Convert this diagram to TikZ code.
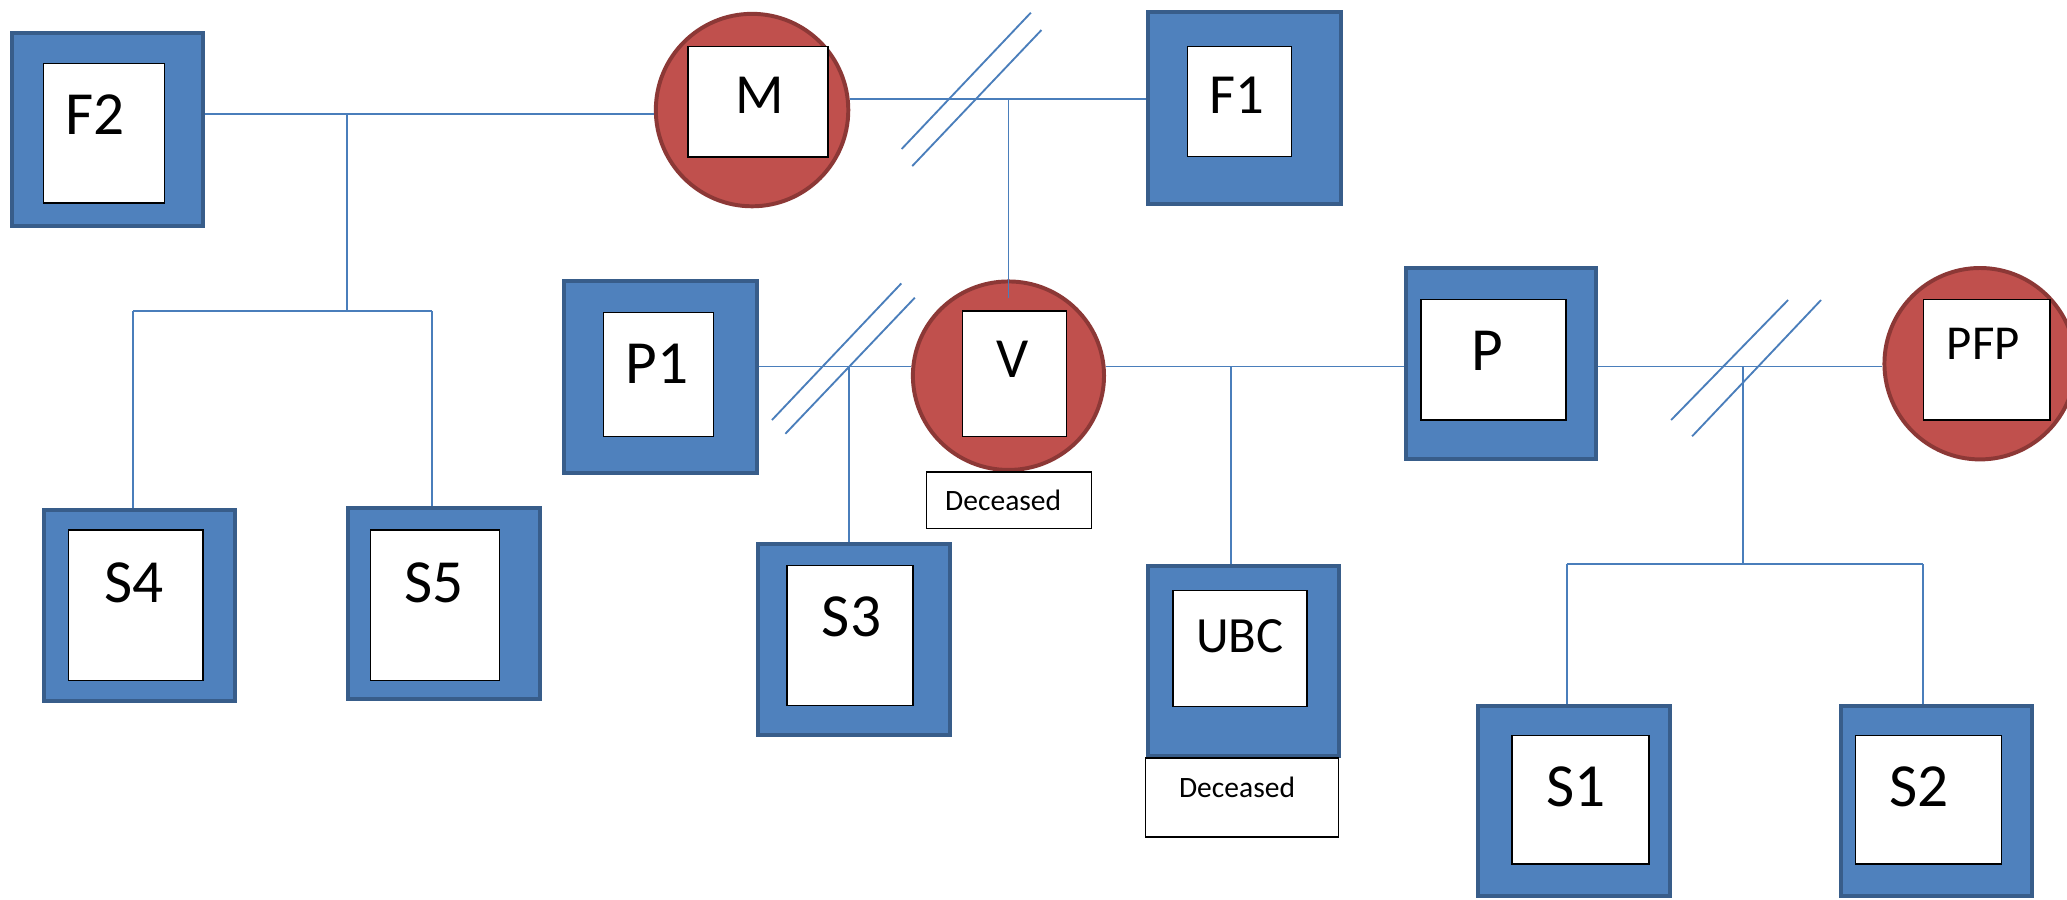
\documentclass[tikz,border=0pt]{standalone}
\usepackage{fontspec}
\setmainfont{Carlito}
\usetikzlibrary{shapes.geometric,calc}
\definecolor{mfill}{HTML}{4F81BD}
\definecolor{mborder}{HTML}{385D8A}
\definecolor{ffill}{HTML}{C0504D}
\definecolor{fborder}{HTML}{8C3836}
\definecolor{lcol}{HTML}{4A7EBB}
\tikzset{
  malebox/.style={rectangle, draw=mborder, fill=mfill, line width=3pt, inner sep=0pt},
  femcirc/.style={ellipse, draw=fborder, fill=ffill, line width=3pt, inner sep=0pt},
  txtbox/.style={rectangle, draw=black, fill=white, line width=1pt, inner sep=0pt},
  lbl/.style={inner sep=0pt, anchor=base, text=black},
  big/.style={font=\fontsize{46.5}{50}\selectfont},
  mid/.style={font=\fontsize{43}{48}\selectfont},
  small/.style={font=\fontsize{38.5}{42}\selectfont},
  tiny/.style={font=\fontsize{22.4}{26}\selectfont},
  link/.style={draw=lcol, line width=1.4pt},
}
\begin{document}
\begin{tikzpicture}[x=1pt,y=-1pt]
\fill[white] (0,0) rectangle (1568,682);
\useasboundingbox (0,0) rectangle (1568,682);

% ---------- people ----------
\node[malebox, minimum width=145.4pt, minimum height=146.4pt] (F2) at (81.6,98) {};
\node[txtbox, minimum width=91.6pt, minimum height=106pt] (F2i) at (78.8,101) {};
\node[lbl, big] (F2t) at (72,102) {F2};

\node[femcirc, minimum width=146pt, minimum height=146pt] (M) at (570.5,83.5) {};
\node[txtbox, minimum width=106pt, minimum height=83.6pt] (Mi) at (575,77.2) {};
\node[lbl, mid] (Mt) at (576.5,86) {M};

\node[malebox, minimum width=147pt, minimum height=145.7pt] (F1) at (944,82) {};
\node[txtbox, minimum width=78.8pt, minimum height=83.5pt] (F1i) at (940.2,77.2) {};
\node[lbl, mid] (F1t) at (938,86) {F1};

\node[malebox, minimum width=146pt, minimum height=145pt] (P1) at (501,286) {};
\node[txtbox, minimum width=83pt, minimum height=94pt] (P1i) at (499.5,284) {};
\node[lbl, big] (P1t) at (498.5,291) {P1};

\node[femcirc, minimum width=145pt, minimum height=143pt] (V) at (765,285) {};
\node[txtbox, minimum width=79pt, minimum height=95pt] (Vi) at (769.5,283.5) {};
\node[lbl, mid] (Vt) at (768,286) {V};
\node[txtbox, minimum width=125.4pt, minimum height=43pt] (Vd) at (765.3,379.5) {};
\node[lbl, tiny] (Vdt) at (761,387) {Deceased};

\node[malebox, minimum width=145.5pt, minimum height=145pt] (S3) at (647.75,485) {};
\node[txtbox, minimum width=95.6pt, minimum height=106pt] (S3i) at (644.8,482) {};
\node[lbl, big] (S3t) at (646,483) {S3};

\node[malebox, minimum width=145pt, minimum height=144.4pt] (S4) at (106,459.3) {};
\node[txtbox, minimum width=102pt, minimum height=114pt] (S4i) at (103,459) {};
\node[lbl, big] (S4t) at (101.6,457) {S4};

\node[malebox, minimum width=145.3pt, minimum height=145pt] (S5) at (336.85,457.55) {};
\node[txtbox, minimum width=98pt, minimum height=114pt] (S5i) at (330,459) {};
\node[lbl, big] (S5t) at (329.4,457) {S5};

\node[malebox, minimum width=145pt, minimum height=144pt] (UBC) at (943,501.5) {};
\node[txtbox, minimum width=101.8pt, minimum height=88pt] (UBCi) at (940.6,492) {};
\node[lbl, small] (UBCt) at (940.6,495) {UBC};
\node[txtbox, minimum width=146.5pt, minimum height=60pt] (UBCd) at (942.25,605) {};
\node[lbl, tiny] (UBCdt) at (938.4,605) {Deceased};

\node[malebox, minimum width=144.8pt, minimum height=145.2pt] (P) at (1138.6,275.9) {};
\node[txtbox, minimum width=110pt, minimum height=91.6pt] (Pi) at (1133,272.8) {};
\node[lbl, big] (Pt) at (1128,281) {P};

\node[femcirc, minimum width=145pt, minimum height=145.2pt] (PFP) at (1502,275.9) {};
\node[txtbox, minimum width=96pt, minimum height=91.6pt] (PFPi) at (1507,272.8) {};
\node[lbl, font=\fontsize{37}{40}\selectfont] (PFPt) at (1504.5,273) {PFP};

\node[malebox, minimum width=145.3pt, minimum height=144pt] (S1) at (1193.85,607.5) {};
\node[txtbox, minimum width=104pt, minimum height=97.4pt] (S1i) at (1199,606.7) {};
\node[lbl, big] (S1t) at (1195.6,612) {S1};

\node[malebox, minimum width=145pt, minimum height=144pt] (S2) at (1469,607.5) {};
\node[txtbox, minimum width=110.8pt, minimum height=97.4pt] (S2i) at (1463,606.7) {};
\node[lbl, big] (S2t) at (1455.8,612) {S2};

% ---------- junction coordinates ----------
\coordinate (jA) at (263,86.8);
\coordinate (barA) at (263,236);
\coordinate (barAl) at (101,236);
\coordinate (barAr) at (327.5,236);
\coordinate (jB) at (765,75.4);
\coordinate (jC) at (644,278);
\coordinate (jD) at (934,278);
\coordinate (jE) at (1322.5,278);
\coordinate (barE) at (1322.5,428);
\coordinate (barEl) at (1188.6,428);
\coordinate (barEr) at (1459,428);

% ---------- connectors ----------
\draw[link] (F2.east |- jA) -- (M.west |- jA);
\draw[link] (jA) -- (barA);
\draw[link] (barAl) -- (barAr);
\draw[link] (barAl) -- (barAl |- S4.north);
\draw[link] (barAr) -- (barAr |- S5.north);

\draw[link] (M.east |- jB) -- (F1.west |- jB);
\draw[link] (jB) -- ($(jB |- V.north)+(0,14)$);

\draw[link] (P1.east |- jC) -- (V.west |- jC);
\draw[link] (jC) -- (jC |- S3.north);

\draw[link] (V.east |- jD) -- (P.west |- jD);
\draw[link] (jD) -- (jD |- UBC.north);

\draw[link] (P.east |- jE) -- (PFP.west |- jE);
\draw[link] (jE) -- (barE);
\draw[link] (barEl) -- (barEr);
\draw[link] (barEl) -- (barEl |- S1.north);
\draw[link] (barEr) -- (barEr |- S2.north);

% ---------- separation marks ----------
\draw[link] (684,113) -- (782,9.6);
\draw[link] (692,126) -- (790,22.8);
\draw[link] (585.6,318.6) -- (683.7,215);
\draw[link] (595.8,329) -- (694,225.8);
\draw[link] (1267.7,318.6) -- (1356.4,227.6);
\draw[link] (1283.6,331) -- (1381.4,227.6);
\end{tikzpicture}
\end{document}
